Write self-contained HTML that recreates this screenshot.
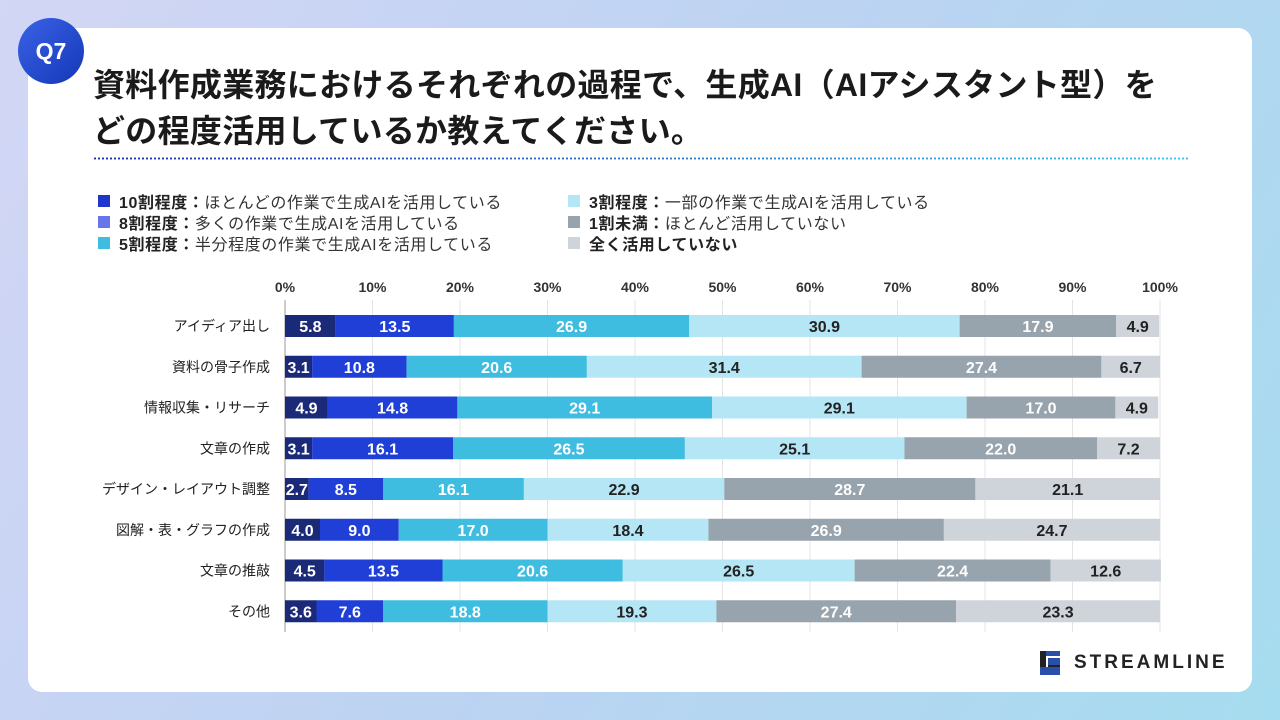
<!DOCTYPE html>
<html><head><meta charset="utf-8"><style>
body{margin:0;width:1280px;height:720px;overflow:hidden;font-family:"Liberation Sans","Noto Sans CJK JP",sans-serif;background:linear-gradient(120deg,#d3d6f5 0%,#bcd3f2 50%,#a6dcef 100%);position:relative}
.card{position:absolute;left:28px;top:28px;width:1224px;height:664px;background:#fff;border-radius:14px}
.badge{position:absolute;left:18px;top:18px;width:66px;height:66px;border-radius:50%;background:linear-gradient(135deg,#3a63e6,#1537b8);color:#fff;font-weight:bold;font-size:23px;display:flex;align-items:center;justify-content:center}
.title{position:absolute;left:93px;top:62px;font-size:32px;font-weight:bold;color:#1a1a1a;line-height:46px;letter-spacing:0.3px;white-space:nowrap}
.dots{position:absolute;left:93px;top:157px;width:1095px;height:3px;background-image:radial-gradient(circle,rgba(255,255,255,0) 0,rgba(255,255,255,0) 1px,#fff 1.2px);background-size:4px 3px;}
.dotline{position:absolute;left:93px;top:157px;width:1095px;height:3px;background:linear-gradient(90deg,#1b2fa8,#3fc0e8)}
.leg{position:absolute;font-size:16px;letter-spacing:0.6px;color:#333;display:flex;align-items:center;white-space:nowrap}
.leg i{display:inline-block;width:12px;height:12px;margin-right:9px}
.leg b{color:#222}
</style></head><body>
<div class="card"></div>
<div class="badge">Q7</div>
<div class="title">資料作成業務におけるそれぞれの過程で、生成AI（AIアシスタント型）を<br>どの程度活用しているか教えてください。</div>
<div class="dotline"></div>
<div class="dots"></div>
<div class="leg" style="left:98px;top:189px"><i style="background:#1f35cc"></i><b>10割程度：</b>ほとんどの作業で生成AIを活用している</div>
<div class="leg" style="left:98px;top:210px"><i style="background:#6676ea"></i><b>8割程度：</b>多くの作業で生成AIを活用している</div>
<div class="leg" style="left:98px;top:231px"><i style="background:#3fbde0"></i><b>5割程度：</b>半分程度の作業で生成AIを活用している</div>
<div class="leg" style="left:568px;top:189px"><i style="background:#b5e6f5"></i><b>3割程度：</b>一部の作業で生成AIを活用している</div>
<div class="leg" style="left:568px;top:210px"><i style="background:#97a3ad"></i><b>1割未満：</b>ほとんど活用していない</div>
<div class="leg" style="left:568px;top:231px"><i style="background:#cfd3da"></i><b>全く活用していない</b></div>
<svg id="chart" width="1280" height="720" style="position:absolute;left:0;top:0"></svg>
<div style="position:absolute;left:1040px;top:651px;display:flex;align-items:center">
<svg width="22" height="24"><rect x="0" y="0" width="6" height="16" fill="#222"/><rect x="6" y="0" width="14" height="5" fill="#2a4fa8"/><rect x="8" y="7" width="12" height="7" fill="#2a4fa8"/><rect x="0" y="16" width="20" height="8" fill="#2a4fa8"/><rect x="8" y="14" width="12" height="2" fill="#222"/></svg>
<span style="margin-left:12px;font-size:19px;font-weight:bold;letter-spacing:3px;color:#222">STREAMLINE</span></div>
<script>
const categories=["アイディア出し","資料の骨子作成","情報収集・リサーチ","文章の作成","デザイン・レイアウト調整","図解・表・グラフの作成","文章の推敲","その他"];
const s10=[5.8,3.1,4.9,3.1,2.7,4.0,4.5,3.6];
const s8=[13.5,10.8,14.8,16.1,8.5,9.0,13.5,7.6];
const s5=[26.9,20.6,29.1,26.5,16.1,17.0,20.6,18.8];
const s3=[30.9,31.4,29.1,25.1,22.9,18.4,26.5,19.3];
const s1=[17.9,27.4,17.0,22.0,28.7,26.9,22.4,27.4];
const s0=[4.9,6.7,4.9,7.2,21.1,24.7,12.6,23.3];
const ticks=[0,10,20,30,40,50,60,70,80,90,100];
const series=[s10,s8,s5,s3,s1,s0];
const colors=["#1b2a78","#1f3fd6","#3fbde0","#b5e6f5","#97a3ad","#cfd3da"];
const txt=["#fff","#fff","#fff","#222","#fff","#222"];
const svg=document.getElementById('chart');const NS="http://www.w3.org/2000/svg";
const x=v=>285+v*8.75, y=i=>326+i*40.75, bh=22;
function el(t,a){const e=document.createElementNS(NS,t);for(const k in a)e.setAttribute(k,a[k]);svg.appendChild(e);return e;}
ticks.forEach(t=>{const g=el('line',{x1:x(t),x2:x(t),y1:300,y2:632,stroke:t===0?'#999':'#e4e4e4','stroke-width':1});


const l=el('text',{x:x(t),y:292,'text-anchor':'middle','font-size':14,'font-weight':'bold',fill:'#333'});l.textContent=t+'%';

});
categories.forEach((c,i)=>{const l=el('text',{x:270,y:y(i)+5,'text-anchor':'end','font-size':14,fill:'#222'});l.textContent=c;


let acc=0;series.forEach((s,k)=>{const v=s[i];const r=el('rect',{x:x(acc),y:y(i)-bh/2,width:v*8.75,height:bh,fill:colors[k]});


const tx=el('text',{x:x(acc+v/2),y:y(i)+6,'text-anchor':'middle','font-size':16,'font-weight':'bold',fill:txt[k]});tx.textContent=v.toFixed(1);


acc+=v;});});
</script>
</body></html>
